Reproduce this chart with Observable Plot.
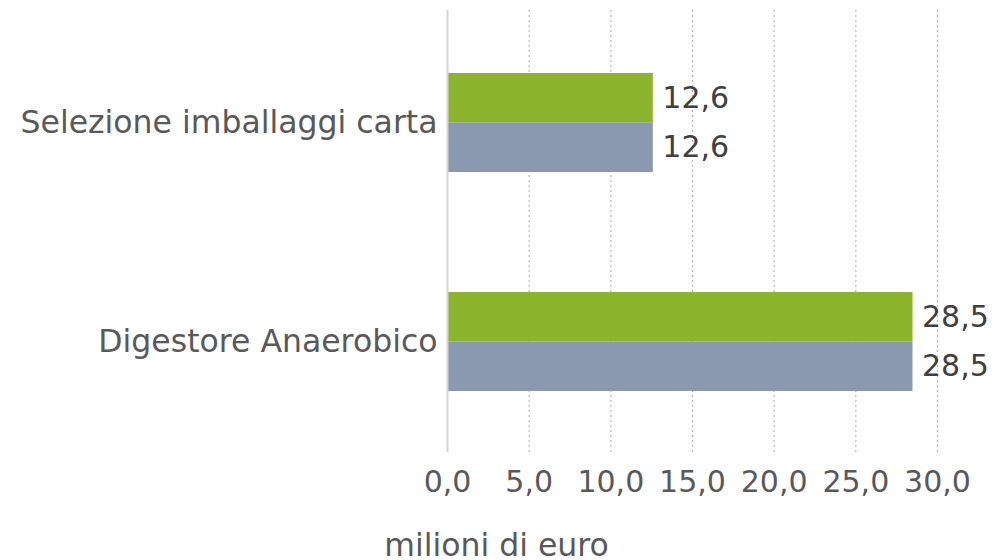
<!DOCTYPE html>
<html><head><meta charset="utf-8">
<script src="https://cdn.jsdelivr.net/npm/d3@7"></script>
<script src="https://cdn.jsdelivr.net/npm/@observablehq/plot@0.6"></script>
<style>
body{margin:0;background:#fff;font-family:"DejaVu Sans",sans-serif;}
#caption{width:993px;text-align:center;font-size:31.5px;color:#595959;line-height:36px;margin-top:7px;}
</style></head><body><div id="chart"></div><div id="caption">milioni di euro</div>
<script>
const categories = ["Selezione imballaggi carta", "Digestore Anaerobico"];
const valuesSerie1 = [12.6, 28.5]; // verde
const valuesSerie2 = [12.6, 28.5]; // grigio-blu
const xTicks = [0, 5, 10, 15, 20, 25, 30];

const it = d3.formatLocale({decimal: ",", thousands: ".", grouping: [3], currency: ["", "€"]});
const fmt = it.format(".1f");

const d1 = categories.map((c, i) => ({cat: c, v: valuesSerie1[i]}));
const d2 = categories.map((c, i) => ({cat: c, v: valuesSerie2[i]}));

const H = 520, MT = 10, MB = 68, PI = 0.55, PO = 0.28;
const step = (H - MT - MB) / (categories.length - PI + 2 * PO);
const bw = step * (1 - PI);

const chart = Plot.plot({
  width: 1003,
  height: H,
  marginLeft: 447,
  marginRight: 66,
  marginTop: MT,
  marginBottom: MB,
  style: {fontSize: "30px", fontFamily: "DejaVu Sans", color: "#595959", background: "#fff"},
  x: {domain: [0, 30], axis: null},
  y: {domain: categories, paddingInner: PI, paddingOuter: PO, align: 0.51, axis: null},
  marks: [
    Plot.gridX(xTicks.filter(d => d !== 0), {stroke: "#b8b8b8", strokeOpacity: 1, strokeDasharray: "2,3", strokeWidth: 1.2}),
    Plot.barX(d1, {x: "v", y: "cat", fill: "#8cb42c", insetBottom: bw / 2}),
    Plot.barX(d2, {x: "v", y: "cat", fill: "#8a98b0", insetTop: bw / 2}),
    Plot.ruleX([0], {stroke: "#d4d4d4", strokeWidth: 2}),
    Plot.text(d1, {x: "v", y: "cat", text: d => fmt(d.v), dy: -bw / 4, dx: 9, textAnchor: "start", fill: "#404040", fontSize: 30}),
    Plot.text(d2, {x: "v", y: "cat", text: d => fmt(d.v), dy: bw / 4, dx: 9, textAnchor: "start", fill: "#404040", fontSize: 30}),
    Plot.axisX(xTicks, {tickFormat: fmt, tickSize: 0, tickPadding: 18, label: null, fill: "#595959"}),
    Plot.axisY({tickSize: 0, tickPadding: 10, label: null, fill: "#595959", fontSize: 31.5})
  ]
});
document.getElementById("chart").appendChild(chart);
</script>
</body></html>
